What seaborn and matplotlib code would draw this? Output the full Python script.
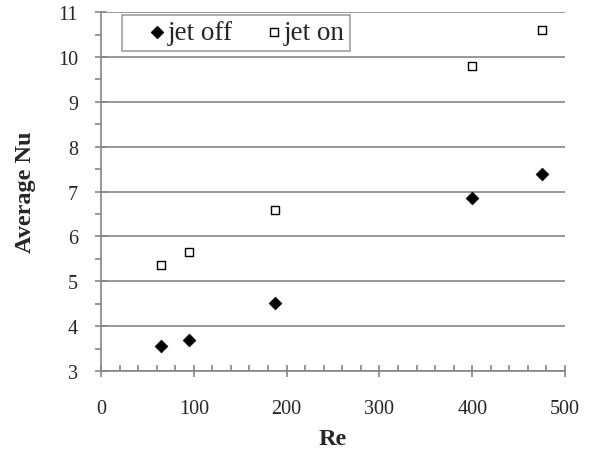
import pandas as pd
import matplotlib.pyplot as plt
import seaborn as sns
from matplotlib.ticker import MultipleLocator

# Data
re_vals = [65, 95, 188, 400, 475]
nu_jet_off = [3.55, 3.70, 4.52, 6.85, 7.40]
nu_jet_on = [5.37, 5.65, 6.58, 9.80, 10.60]

df = pd.DataFrame({
    'Re': re_vals * 2,
    'Nu': nu_jet_off + nu_jet_on,
    'case': ['jet off'] * len(re_vals) + ['jet on'] * len(re_vals),
})

sns.set_style('white')
plt.rcParams['font.family'] = ['Liberation Serif', 'DejaVu Serif']

fig = plt.figure(figsize=(5.96, 4.52), dpi=100)
ax = fig.add_axes([0.1695, 0.177, 0.7785, 0.794])

grey = '#868686'

off = df[df['case'] == 'jet off']
on = df[df['case'] == 'jet on']
sns.scatterplot(data=off, x='Re', y='Nu', marker='D', s=42, color='black',
                edgecolor='black', linewidth=0.5, label='jet off', ax=ax, zorder=3)
sns.scatterplot(data=on, x='Re', y='Nu', marker='s', s=40, facecolor='white',
                edgecolor='black', linewidth=1.0, label='jet on', ax=ax, zorder=3)

ax.set_xlim(0, 500)
ax.set_ylim(3, 11)
ax.xaxis.set_major_locator(MultipleLocator(100))
ax.xaxis.set_minor_locator(MultipleLocator(20))
ax.yaxis.set_major_locator(MultipleLocator(1))
ax.yaxis.set_minor_locator(MultipleLocator(0.5))

ax.grid(axis='y', which='major', color=grey, linewidth=1.2)
ax.set_axisbelow(True)

for side in ['top', 'right']:
    ax.spines[side].set_visible(False)
for side in ['left', 'bottom']:
    ax.spines[side].set_color(grey)
    ax.spines[side].set_linewidth(1.2)

ax.tick_params(axis='both', which='major', direction='inout', length=9, width=1.2,
               color=grey, labelsize=14.5)
ax.tick_params(axis='y', which='major', pad=12)
ax.tick_params(axis='x', which='major', pad=16)
ax.tick_params(axis='x', which='minor', direction='in', length=4, width=1.2, color=grey)
ax.tick_params(axis='y', which='minor', direction='out', length=4, width=1.2, color=grey)
ax.tick_params(axis='both', which='both', bottom=True, left=True)

ax.set_xlabel('Re', fontsize=17.5, fontweight='bold', labelpad=7)
ax.set_ylabel('Average Nu', fontsize=17.5, fontweight='bold', labelpad=16)

leg = ax.legend(loc='upper left', ncol=2, fontsize=19.5, frameon=True, fancybox=False,
                bbox_to_anchor=(0.04, 1.0), borderaxespad=0.1, handletextpad=-0.72,
                columnspacing=0.4, markerscale=1.0, handlelength=2.2,
                borderpad=0.2)
leg.get_frame().set_edgecolor(grey)
leg.get_frame().set_linewidth(1.2)

fig.savefig('out.png', dpi=100)
